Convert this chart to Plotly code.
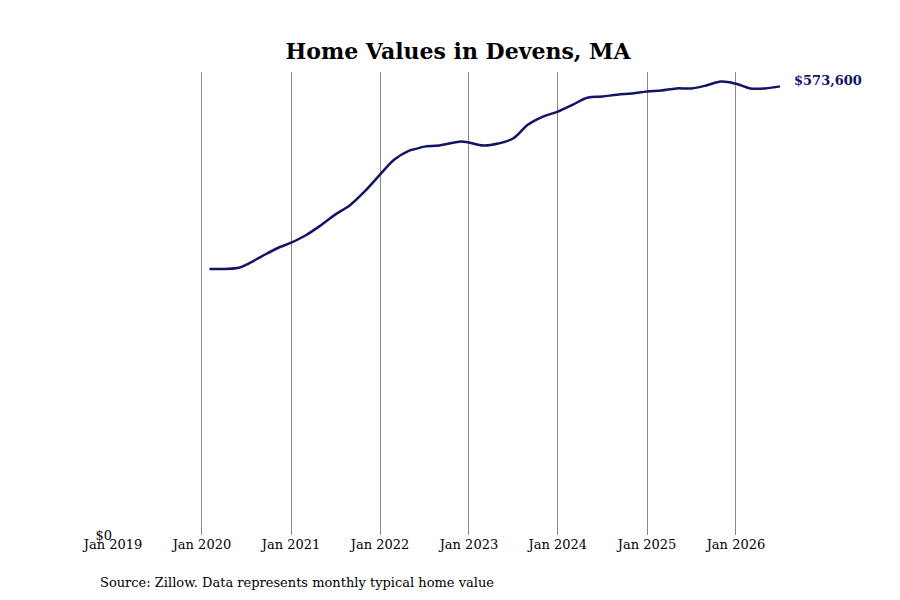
import plotly.graph_objects as go

dates = ["2020-02-01", "2020-06-01", "2020-07-01", "2020-09-01", "2020-11-01",
         "2021-01-01", "2021-03-01", "2021-05-01", "2021-07-01", "2021-09-01", "2021-11-01",
         "2022-01-01", "2022-03-01", "2022-05-01", "2022-06-01", "2022-07-01", "2022-09-01",
         "2022-11-01", "2022-12-01", "2023-01-01", "2023-03-01", "2023-05-01", "2023-07-01",
         "2023-09-01", "2023-11-01", "2024-01-01", "2024-03-01", "2024-05-01", "2024-07-01",
         "2024-09-01", "2024-11-01", "2025-01-01", "2025-03-01", "2025-05-01", "2025-07-01",
         "2025-09-01", "2025-11-01", "2026-01-01", "2026-03-01", "2026-05-01", "2026-07-01"]
values = [340000, 341800, 345600, 356000, 366000,
          373800, 383000, 395500, 409600, 422000, 440000,
          460800, 480000, 491500, 494000, 496600, 498000,
          501800, 503000, 501800, 498000, 500500, 507000,
          524800, 535000, 541400, 550000, 559000, 560600,
          563000, 564500, 567000, 568300, 571000, 571000,
          574700, 579800, 577000, 571000, 571000, 573600]
tick_dates = ["2019-01-01", "2020-01-01", "2021-01-01", "2022-01-01", "2023-01-01",
              "2024-01-01", "2025-01-01", "2026-01-01"]
tick_text = ["Jan 2019", "Jan 2020", "Jan 2021", "Jan 2022", "Jan 2023",
             "Jan 2024", "Jan 2025", "Jan 2026"]

navy = "#141466"
font = "DejaVu Serif"

fig = go.Figure()
fig.add_trace(go.Scatter(x=dates, y=values, mode="lines",
                         line=dict(color=navy, width=2.5, shape="spline")))
fig.add_annotation(x=dates[-1], y=values[-1], text=f"<b>${values[-1]:,}</b>",
                   showarrow=False, xanchor="left", xshift=12, yshift=6,
                   font=dict(family=font, size=13, color=navy))
fig.add_annotation(xref="paper", yref="paper", x=-0.022, y=-0.082, xanchor="left",
                   yanchor="top", showarrow=False,
                   text="Source: Zillow. Data represents monthly typical home value",
                   font=dict(family=font, size=13, color="black"))

fig.update_layout(
    width=900, height=600, plot_bgcolor="white", paper_bgcolor="white",
    margin=dict(l=105, r=117, t=64, b=73), showlegend=False,
    title=dict(text="<b>Home Values in Devens, MA</b>", x=0.5, y=0.94,
               font=dict(family=font, size=22, color="black")),
    font=dict(family=font, size=13, color="black"),
    xaxis=dict(range=["2019-01-01", "2026-08-15"], tickvals=tick_dates, ticktext=tick_text,
               showgrid=True, gridcolor="#888888", gridwidth=1, zeroline=False,
               showline=False, ticks=""),
    yaxis=dict(range=[0, 592000], tickvals=[0], ticktext=["$0"], showgrid=False,
               zeroline=False, showline=False, ticks=""),
)
fig.write_html("out.html")
